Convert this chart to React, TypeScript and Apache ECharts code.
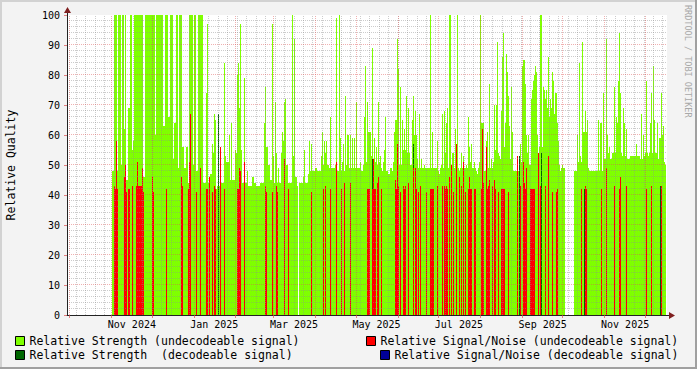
import React, { useEffect, useRef } from 'react';
import * as echarts from 'echarts';

// RRD archive: first row and step (one row per consolidated interval)
const START = Date.UTC(2024, 8, 29);
const STEP_SECONDS = 63936;
const ROWS = 600;
const DAY_MS = 86400000;

// Relative Strength (undecodeable signal): [row, value] change points, value holds until next listed row
const STRENGTH_UNDEC: [number, number][] = [
  [45, 48], [47, 100], [50, 48], [51, 100], [54, 50], [55, 100], [57, 62], [58, 100], [59, 45], [61, 69],
  [63, 100], [65, 55], [66, 58], [67, 100], [76, 46], [78, 100], [88, 60], [89, 100], [96, 63], [98, 100],
  [101, 66], [103, 100], [106, 52], [107, 64], [109, 100], [111, 49], [112, 100], [115, 56], [117, 49], [119, 56],
  [121, 44], [122, 100], [126, 50], [127, 100], [129, 48], [131, 100], [136, 44], [139, 74], [140, 97], [141, 44],
  [143, 47], [145, 57], [146, 54], [147, 67], [148, 65], [149, 42], [150, 43], [153, 44], [157, 84], [158, 53],
  [159, 51], [162, 60], [163, 45], [164, 64], [165, 45], [168, 55], [169, 54], [170, 80], [171, 84], [172, 69],
  [173, 97], [174, 55], [175, 44], [177, 79], [178, 44], [180, 48], [181, 43], [185, 46], [187, 44], [189, 43],
  [193, 44], [197, 64], [198, 76], [199, 56], [201, 50], [203, 45], [205, 97], [206, 53], [207, 44], [208, 71],
  [209, 54], [210, 44], [211, 49], [212, 44], [214, 54], [215, 61], [216, 58], [217, 71], [218, 72], [219, 50],
  [221, 44], [225, 100], [226, 53], [227, 92], [228, 46], [230, 43], [231, 0], [232, 44], [236, 46], [237, 55],
  [238, 44], [241, 47], [242, 58], [243, 48], [244, 57], [245, 48], [248, 49], [250, 48], [254, 53], [255, 61],
  [256, 50], [257, 58], [258, 54], [259, 58], [260, 50], [262, 49], [263, 66], [264, 49], [268, 50], [269, 99],
  [270, 48], [272, 100], [273, 59], [274, 48], [275, 51], [276, 57], [277, 48], [278, 73], [279, 50], [280, 60],
  [282, 49], [283, 60], [284, 49], [285, 59], [286, 49], [287, 59], [288, 49], [289, 71], [290, 49], [293, 51],
  [294, 48], [296, 50], [297, 66], [298, 83], [299, 51], [300, 71], [301, 61], [304, 53], [305, 89], [306, 52],
  [307, 59], [308, 51], [309, 56], [310, 50], [311, 71], [312, 51], [313, 53], [314, 49], [315, 48], [316, 51],
  [317, 55], [318, 66], [319, 48], [321, 47], [323, 49], [325, 48], [326, 51], [327, 61], [328, 65], [330, 92],
  [331, 82], [332, 50], [333, 76], [334, 50], [335, 65], [336, 55], [337, 62], [338, 55], [339, 73], [340, 54],
  [341, 69], [342, 54], [343, 50], [345, 65], [346, 73], [347, 60], [348, 68], [349, 60], [350, 52], [351, 49],
  [352, 67], [353, 49], [354, 52], [355, 49], [357, 50], [358, 49], [363, 100], [364, 49], [365, 61], [366, 49],
  [370, 58], [371, 48], [372, 47], [373, 49], [374, 50], [375, 67], [376, 49], [377, 68], [378, 54], [379, 64],
  [380, 69], [381, 49], [382, 100], [384, 50], [385, 54], [387, 49], [388, 62], [389, 48], [390, 100], [391, 49],
  [392, 48], [393, 49], [394, 54], [395, 49], [396, 53], [397, 49], [399, 50], [400, 49], [401, 66], [402, 56],
  [403, 51], [404, 57], [405, 49], [407, 51], [408, 49], [409, 48], [410, 47], [411, 49], [412, 51], [413, 100],
  [414, 64], [417, 48], [419, 58], [420, 61], [421, 49], [422, 77], [423, 49], [424, 52], [425, 49], [426, 51],
  [427, 70], [428, 55], [429, 70], [430, 91], [431, 54], [432, 53], [433, 52], [434, 68], [435, 86], [436, 94],
  [437, 56], [438, 64], [439, 87], [440, 81], [441, 73], [442, 63], [443, 52], [444, 76], [445, 61], [446, 48],
  [450, 53], [451, 48], [452, 51], [453, 57], [454, 51], [455, 83], [456, 85], [458, 77], [459, 60], [460, 54],
  [461, 60], [462, 50], [464, 72], [465, 75], [466, 78], [467, 80], [468, 83], [469, 81], [470, 60], [471, 54],
  [472, 56], [473, 100], [475, 56], [476, 76], [477, 75], [478, 72], [479, 75], [480, 69], [481, 86], [482, 66],
  [483, 72], [484, 69], [485, 81], [486, 78], [487, 67], [488, 74], [490, 64], [491, 58], [492, 50], [493, 48],
  [494, 49], [495, 50], [496, 49], [498, 0], [507, 48], [510, 60], [511, 51], [512, 84], [513, 53], [514, 51],
  [515, 91], [516, 61], [518, 68], [519, 61], [520, 65], [521, 49], [522, 48], [531, 65], [532, 48], [533, 64],
  [535, 48], [536, 74], [537, 52], [539, 92], [540, 60], [541, 54], [542, 56], [543, 52], [545, 54], [547, 76],
  [548, 54], [549, 66], [550, 64], [551, 78], [552, 94], [553, 74], [554, 54], [555, 53], [556, 69], [557, 64],
  [558, 53], [559, 62], [560, 52], [563, 53], [569, 57], [570, 53], [573, 52], [574, 67], [575, 52], [576, 60],
  [577, 53], [578, 54], [579, 78], [580, 54], [581, 53], [582, 54], [583, 64], [584, 74], [585, 54], [586, 83],
  [587, 65], [588, 54], [590, 64], [591, 52], [592, 59], [594, 74], [595, 60], [596, 63], [597, 51], [598, 50],
  [599, 0],
];

// Relative Signal/Noise (undecodeable signal): [row, value] for single rows
const SN_UNDEC: [number, number][] = [
  [47, 43], [48, 42], [49, 58], [50, 42], [57, 46], [58, 50], [59, 41], [61, 42], [62, 42], [65, 43],
  [69, 43], [70, 51], [71, 43], [72, 43], [73, 43], [74, 43], [75, 49], [76, 41], [85, 46], [86, 41],
  [99, 42], [114, 46], [115, 43], [121, 42], [122, 51], [123, 67], [129, 41], [133, 49], [139, 42], [140, 42],
  [142, 46], [145, 41], [147, 43], [148, 42], [153, 56], [157, 42], [170, 42], [171, 42], [172, 49], [173, 48],
  [177, 51], [198, 43], [199, 41], [205, 41], [209, 43], [210, 41], [217, 52], [221, 42],
  [244, 41], [256, 42], [258, 43], [263, 42], [269, 51], [274, 42], [277, 44], [283, 44], [300, 42], [301, 42],
  [302, 42], [305, 42], [306, 52], [307, 42], [308, 42], [310, 44], [311, 46], [314, 42],
  [328, 45], [329, 42], [330, 57], [331, 43], [333, 41], [336, 43], [337, 42], [338, 43], [341, 44], [346, 49],
  [348, 49], [349, 42], [351, 41], [353, 43], [359, 41], [363, 42], [364, 42], [365, 42], [366, 42], [370, 43],
  [375, 43], [377, 43], [378, 42], [379, 43], [380, 42], [382, 46], [384, 50], [386, 41], [389, 57], [392, 46],
  [394, 43], [396, 51], [398, 41], [401, 42], [402, 46], [403, 42], [404, 42], [407, 42], [408, 42], [414, 42],
  [415, 62], [416, 44],
  [419, 56], [420, 42], [421, 43], [422, 45], [425, 43], [427, 45], [428, 42], [431, 41], [434, 42], [435, 42],
  [436, 42], [437, 42], [441, 41], [450, 53], [453, 43], [456, 51], [457, 44], [458, 42], [459, 49], [463, 42],
  [464, 42], [465, 42], [466, 42], [467, 42], [471, 54], [473, 43], [478, 43], [481, 53], [485, 41], [489, 41],
  [490, 42],
  [514, 42], [518, 43], [519, 42], [534, 42], [539, 49], [547, 43], [552, 42], [553, 46], [559, 43], [579, 42],
  [584, 43], [594, 43],
];

// Relative Strength (decodeable signal): [row, value] for single rows
const STRENGTH_DEC: [number, number][] = [
  [151, 67], [305, 52], [346, 57], [452, 53], [474, 54], [517, 42], [593, 43],
];

// Relative Signal/Noise (decodeable signal): none in this period
const SN_DEC: [number, number][] = [];

const LABEL_DATES = [
  Date.UTC(2024, 10, 16), Date.UTC(2025, 0, 16), Date.UTC(2025, 2, 16), Date.UTC(2025, 4, 16),
  Date.UTC(2025, 6, 16), Date.UTC(2025, 8, 16), Date.UTC(2025, 10, 16),
];
const MONTH_NAMES = ['Jan', 'Feb', 'Mar', 'Apr', 'May', 'Jun', 'Jul', 'Aug', 'Sep', 'Oct', 'Nov', 'Dec'];

const NAME_S_U = 'Relative Strength (undecodeable signal)';
const NAME_N_U = 'Relative Signal/Noise (undecodeable signal)';
const NAME_S_D = 'Relative Strength  (decodeable signal)';
const NAME_N_D = 'Relative Signal/Noise (decodeable signal)';

const STEP_MS = STEP_SECONDS * 1000;
const END = START + ROWS * STEP_MS;

function fromChangePoints(points: [number, number][]) {
  const arr = new Array(ROWS).fill(0);
  for (let k = 0; k < points.length; k++) {
    const [r, v] = points[k];
    const end = k + 1 < points.length ? points[k + 1][0] : ROWS;
    for (let i = r; i < end; i++) arr[i] = v;
  }
  return arr;
}
function fromRows(rows: [number, number][]) {
  const arr = new Array(ROWS).fill(0);
  rows.forEach(([r, v]) => { arr[r] = v; });
  return arr;
}
function toData(arr: number[]) {
  const d = arr.map((v, i) => [START + i * STEP_MS, v]);
  d.push([END, 0]);
  return d;
}
// snap a grid time to the centre of the pixel column it falls in (crisp 1px grid lines)
function snapTime(t: number) {
  const px = ((t - START) / (END - START)) * ROWS;
  return START + ((Math.floor(px) + 0.5) / ROWS) * (END - START);
}

const MONO = "'DejaVu Sans Mono', monospace";

export default function App() {
  const ref = useRef<HTMLDivElement>(null);
  useEffect(() => {
    if (!ref.current) return;
    const chart = echarts.init(ref.current, null, { renderer: 'svg' });

    const minor = { color: 'rgba(143,143,143,0.45)', width: 1, type: [1, 1] };
    const major = { color: 'rgba(222,80,80,0.45)', width: 1, type: [1, 1] };
    const grid: any[] = [];
    for (let d = 7; d < 444; d += 7) grid.push({ xAxis: snapTime(START + d * DAY_MS), lineStyle: minor });
    for (let v = 2; v < 100; v += 2) if (v % 10 !== 0) grid.push({ yAxis: v + 1 / 6, lineStyle: minor });
    for (let m = 0; m < 15; m++) grid.push({ xAxis: snapTime(Date.UTC(2024, 9 + m, 1)), lineStyle: major });
    for (let v = 10; v <= 100; v += 10) grid.push({ yAxis: v + 1 / 6, lineStyle: major });

    const monthStarts: number[] = [];
    for (let m = 0; m < 15; m++) monthStarts.push(snapTime(Date.UTC(2024, 9 + m, 1)));

    const area = (name: string, color: string, data: any[], z: number, extra: any = {}) => ({
      name, type: 'line', step: 'end', data, symbol: 'none', showSymbol: false,
      lineStyle: { width: 0, color }, itemStyle: { color }, areaStyle: { color, opacity: 1 },
      z, silent: true, animation: false, ...extra,
    });

    const legendBase = {
      icon: 'rect', itemWidth: 9, itemHeight: 9, itemGap: 0, padding: 0,
      itemStyle: { borderColor: '#000', borderWidth: 1 },
      textStyle: { fontFamily: MONO, fontSize: 11.5, color: '#000' },
      selectedMode: false,
    };

    chart.setOption({
      animation: false,
      backgroundColor: '#F3F3F3',
      grid: {
        left: 67, top: 15, width: 600, height: 300, show: true, backgroundColor: '#FFFFFF', borderWidth: 0,
        containLabel: false, outerBoundsMode: 'none',
      },
      xAxis: {
        type: 'value', min: START, max: END, z: 10,
        axisLine: { show: true, lineStyle: { color: '#222', width: 1 } },
        axisTick: { show: true, customValues: monthStarts, length: 3, lineStyle: { color: 'rgba(222,80,80,0.7)' } },
        splitLine: { show: false },
        axisLabel: {
          customValues: LABEL_DATES, margin: 4, color: '#000', fontFamily: MONO, fontSize: 10,
          formatter: (val: number) => { const d = new Date(val); return MONTH_NAMES[d.getUTCMonth()] + ' ' + d.getUTCFullYear(); },
        },
      },
      yAxis: {
        type: 'value', min: 0, max: 100, interval: 10, z: 10,
        name: 'Relative Quality', nameLocation: 'middle', nameGap: 50, nameRotate: 90,
        nameTextStyle: { fontFamily: MONO, fontSize: 11.5, color: '#000' },
        axisLine: { show: true, lineStyle: { color: '#222', width: 1 } },
        axisTick: { show: true, length: 3, lineStyle: { color: 'rgba(222,80,80,0.7)' } },
        splitLine: { show: false },
        axisLabel: { margin: 7, color: '#000', fontFamily: MONO, fontSize: 10 },
      },
      legend: [
        { ...legendBase, data: [NAME_S_U], left: 15, top: 335 },
        { ...legendBase, data: [NAME_N_U], left: 366, top: 335 },
        { ...legendBase, data: [NAME_S_D], left: 15, top: 349 },
        { ...legendBase, data: [NAME_N_D], left: 380, top: 349 },
      ],
      series: [
        area(NAME_S_U, '#7FFF00', toData(fromChangePoints(STRENGTH_UNDEC)), 2, {
          markLine: { silent: true, symbol: ['none', 'none'], label: { show: false }, animation: false, data: grid, z: 5 },
        }),
        area(NAME_S_D, '#006600', toData(fromRows(STRENGTH_DEC)), 3),
        area(NAME_N_U, '#FF0000', toData(fromRows(SN_UNDEC)), 4),
        area(NAME_N_D, '#000099', toData(fromRows(SN_DEC)), 4),
      ],
      graphic: [
        { type: 'rect', shape: { x: 0, y: 0, width: 697, height: 2 }, style: { fill: '#D2D2D2' }, silent: true },
        { type: 'rect', shape: { x: 0, y: 0, width: 2, height: 369 }, style: { fill: '#D2D2D2' }, silent: true },
        { type: 'rect', shape: { x: 0, y: 367, width: 697, height: 2 }, style: { fill: '#A0A0A0' }, silent: true },
        { type: 'rect', shape: { x: 695, y: 0, width: 2, height: 369 }, style: { fill: '#A0A0A0' }, silent: true },
        { type: 'line', shape: { x1: 67.5, y1: 15, x2: 67.5, y2: 10 }, style: { stroke: '#222', lineWidth: 1 }, silent: true },
        { type: 'polygon', shape: { points: [[64, 13], [71, 13], [67.5, 7]] }, style: { fill: '#7F1F1F' }, silent: true },
        { type: 'line', shape: { x1: 667, y1: 315.5, x2: 671, y2: 315.5 }, style: { stroke: '#222', lineWidth: 1 }, silent: true },
        { type: 'polygon', shape: { points: [[669, 312], [669, 319], [675, 315.5]] }, style: { fill: '#7F1F1F' }, silent: true },
        {
          type: 'text', x: 688, y: 5, rotation: -Math.PI / 2, silent: true,
          style: { text: 'RRDTOOL / TOBI OETIKER', fill: '#A8A8A8', font: "8.5px 'DejaVu Sans Mono', monospace", textAlign: 'left', textVerticalAlign: 'middle' },
        },
      ],
    });
    return () => chart.dispose();
  }, []);
  return <div ref={ref} style={{ position: 'absolute', left: 0, top: 0, width: 697, height: 369 }} />;
}
